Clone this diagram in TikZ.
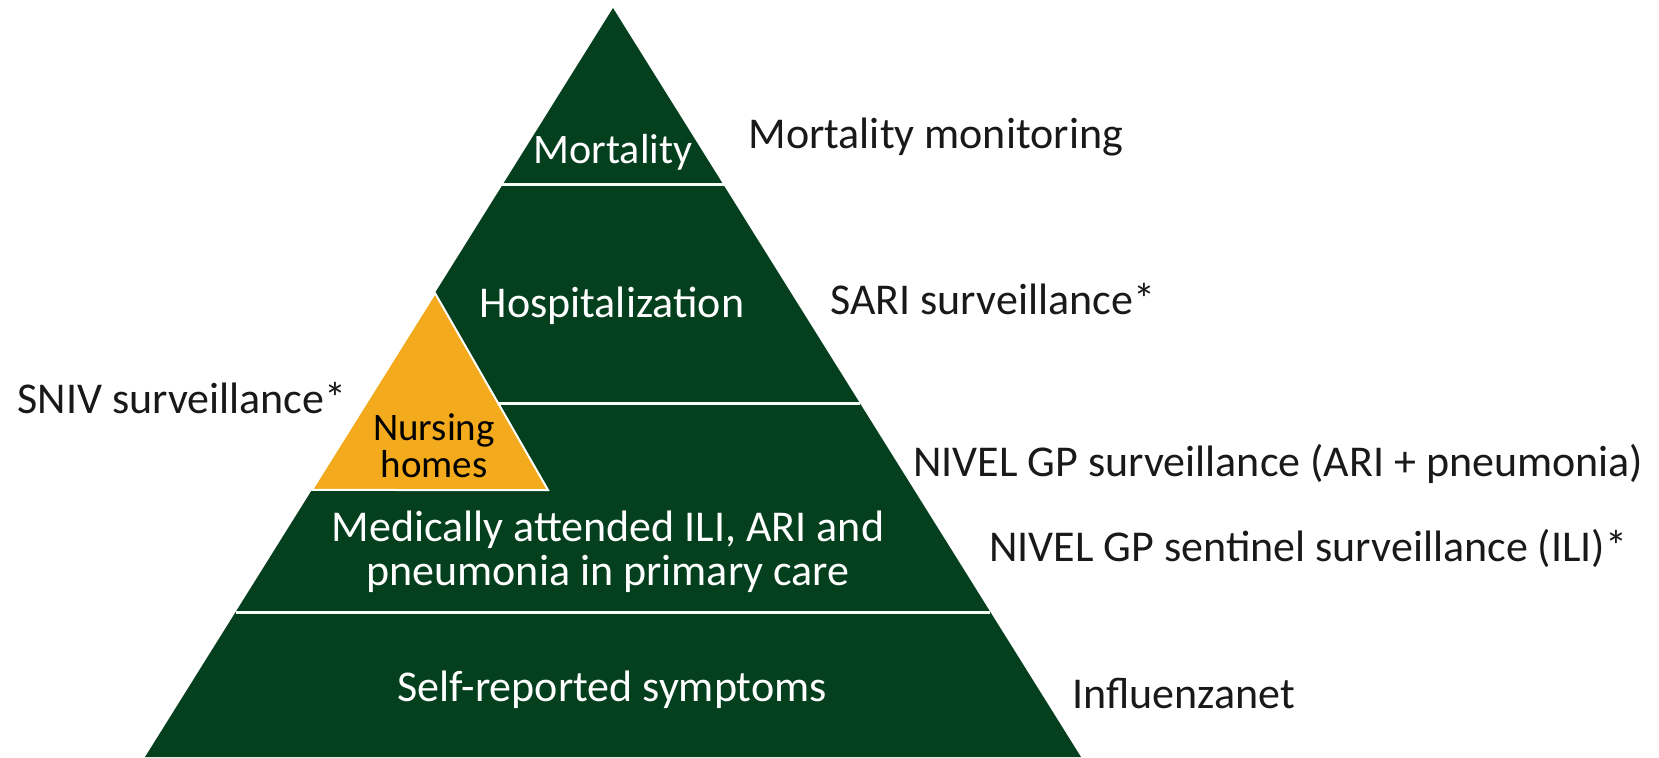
\documentclass[tikz,border=0pt]{standalone}
\usepackage{fontspec}
\setmainfont{Carlito}
\usetikzlibrary{calc}

\definecolor{pyrgreen}{RGB}{5,64,30}
\definecolor{nhorange}{RGB}{243,170,28}
\definecolor{labelgray}{RGB}{25,25,25}

\tikzset{
    inlabel/.style={text=white, font=\fontsize{22}{21}\selectfont, align=center, inner sep=0pt},
    sidelabel/.style={text=labelgray, font=\fontsize{22}{26}\selectfont, anchor=base west, inner sep=0pt},
    divider/.style={draw=green!4!white, line width=1.5pt},
}

\begin{document}
\begin{tikzpicture}[x=0.5pt, y=-0.5pt]
    \useasboundingbox (0,0) rectangle (1659,757);

    \coordinate (apex) at (613,8);
    \coordinate (bl) at (145,757);
    \coordinate (br) at (1081,757);
    \fill[pyrgreen] (apex) -- (bl) -- (br) -- cycle;

    \draw[divider] ($(apex)!0.2363!(bl)$) -- ($(apex)!0.2363!(br)$);
    \draw[divider] ($(apex)!0.5274!(bl)$) -- ($(apex)!0.5274!(br)$);
    \draw[divider] ($(apex)!0.8064!(bl)$) -- ($(apex)!0.8064!(br)$);

    \coordinate (nh_top) at ($(apex)!0.3805!(bl)$);
    \coordinate (nh_left) at ($(apex)!0.6435!(bl)$);
    \coordinate (nh_right) at (548,490);
    \filldraw[fill=nhorange, draw=white, line width=1pt] (nh_top) -- (nh_left) -- (nh_right) -- cycle;

    \node[inlabel, anchor=base, font=\fontsize{21}{21}\selectfont] (mort) at (613,163) {Mortality};
    \node[inlabel, anchor=base] (hosp) at (612,317) {Hospitalization};
    \node[inlabel, text=black, font=\fontsize{19.5}{18.5}\selectfont] (nursing) at (434,446) {Nursing\\homes};
    \node[inlabel, font=\fontsize{22}{22}\selectfont] (primary) at (608,552) {Medically attended ILI, ARI and\\pneumonia in primary care};
    \node[inlabel, anchor=base] (self) at (612,701) {Self-reported symptoms};

    \node[sidelabel] (mort_mon) at (748,148) {Mortality monitoring};
    \node[sidelabel] (sari) at (830,314) {SARI surveillance*};
    \node[sidelabel] (sniv) at (17,413) {SNIV surveillance*};
    \node[sidelabel] (nivel_gp) at (913,476) {NIVEL GP surveillance (ARI + pneumonia)};
    \node[sidelabel] (nivel_ili) at (989,561) {NIVEL GP sentinel surveillance (ILI)*};
    \node[sidelabel] (influenza) at (1072,708) {Influenzanet};
\end{tikzpicture}
\end{document}
